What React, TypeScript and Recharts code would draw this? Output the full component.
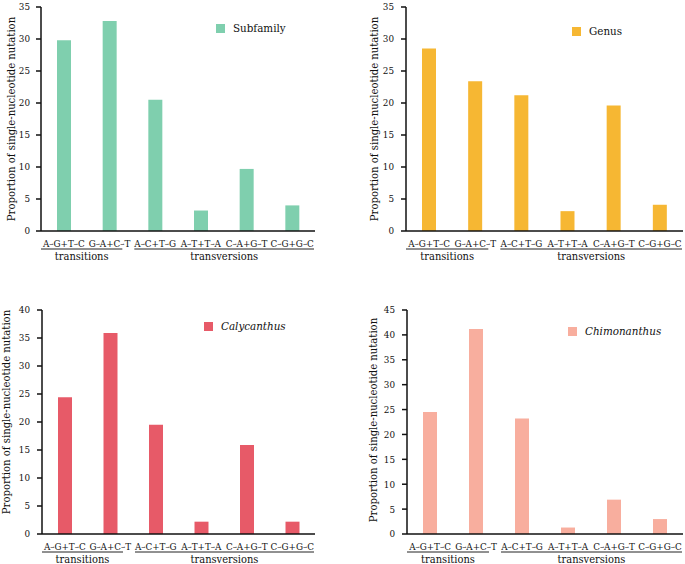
import { BarChart, Bar, XAxis, YAxis } from 'recharts';

const categories = ['A→G+T→C', 'G→A+C→T', 'A→C+T→G', 'A→T+T→A', 'C→A+G→T', 'C→G+G→C'];
const subfamily = [29.8, 32.8, 20.5, 3.2, 9.7, 4.0];
const genus = [28.5, 23.4, 21.2, 3.1, 19.6, 4.1];
const calycanthus = [24.4, 35.9, 19.5, 2.2, 15.9, 2.2];
const chimonanthus = [24.5, 41.2, 23.2, 1.3, 6.9, 3.0];
const ticks35 = [0, 5, 10, 15, 20, 25, 30, 35];
const ticks40 = [0, 5, 10, 15, 20, 25, 30, 35, 40];
const ticks45 = [0, 5, 10, 15, 20, 25, 30, 35, 40, 45];

const FONT = '"DejaVu Serif Condensed", "DejaVu Serif", serif';
const Y_TITLE = 'Proportion of single-nucleotide nutation';

const toRows = (values: number[]) => categories.map((c, i) => ({ name: c, value: values[i] }));

// x tick: label with small raised arrows, plus the transitions / transversions brackets
function MutationTick(props: any) {
  const { x, y, payload, index, width } = props;
  const half = payload?.offset || width / (categories.length * 2);
  const top = y - 8;
  const parts = String(payload.value).split('→');
  const spans: any[] = [];
  parts.forEach((p, i) => {
    spans.push(<tspan key={'t' + i} dy={i === 0 ? 0 : 1.5}>{p}</tspan>);
    if (i < parts.length - 1) spans.push(<tspan key={'a' + i} fontSize={5.5} dy={-1.5}>→</tspan>);
  });
  return (
    <g fontFamily={FONT} style={{ fontStretch: 'condensed' }}>
      <text x={x} y={top + 16} textAnchor="middle" fontSize={9.8} fill="#111">{spans}</text>
      {index === 0 && (
        <g>
          <line x1={x - half} x2={x + half * 3 - 10} y1={top + 18} y2={top + 18} stroke="#222" strokeWidth={1} />
          <text x={(x - half + x + half * 3 - 10) / 2} y={top + 28.5} textAnchor="middle" fontSize={11} fill="#111">transitions</text>
        </g>
      )}
      {index === 2 && (
        <g>
          <line x1={x - half + 2} x2={x + half * 7 - 1} y1={top + 18} y2={top + 18} stroke="#222" strokeWidth={1} />
          <text x={(x - half + 2 + x + half * 7 - 1) / 2} y={top + 28.5} textAnchor="middle" fontSize={11} fill="#111">transversions</text>
        </g>
      )}
    </g>
  );
}

function YTitle({ cx, dy, viewBox }: any) {
  const cy = viewBox.y + viewBox.height / 2 + dy;
  return (
    <text x={cx} y={cy} transform={`rotate(-90 ${cx} ${cy})`} textAnchor="middle" dominantBaseline="central"
      fontSize={11.2} fontFamily={FONT} style={{ fontStretch: 'condensed' }} fill="#111">{Y_TITLE}</text>
  );
}

function LegendBox({ label, color, italic }: { label: string; color: string; italic?: boolean }) {
  return (
    <div style={{ display: 'flex', alignItems: 'center', fontFamily: FONT, fontStretch: 'condensed', fontSize: 11.5, color: '#111', whiteSpace: 'nowrap' }}>
      <span style={{ width: 9, height: 9, background: color, display: 'inline-block', marginRight: 8 }} />
      <span style={{ fontStyle: italic ? 'italic' : 'normal' }}>{label}</span>
    </div>
  );
}

interface PanelProps {
  values: number[];
  label: string;
  color: string;
  italic?: boolean;
  ticks: number[];
  width: number;
  height: number;
  axisWidth: number;
  tickMargin: number;
  titleX: number;
  titleDy: number;
  margin: { top: number; right: number; left: number; bottom: number };
  legendPos: { left: number; top: number };
  left: number;
  top: number;
}

function Panel(p: PanelProps) {
  return (
    <div style={{ position: 'absolute', left: p.left, top: p.top, width: p.width, height: p.height }}>
      <BarChart width={p.width} height={p.height} data={toRows(p.values)} margin={p.margin} barCategoryGap={0}>
        <XAxis dataKey="name" interval={0} tickLine={false} stroke="#111" strokeWidth={1.5} height={p.height - p.margin.top - p.margin.bottom - 224}
          tick={<MutationTick />} />
        <YAxis domain={[0, p.ticks[p.ticks.length - 1]]} ticks={p.ticks} interval={0} width={p.axisWidth} stroke="#111" strokeWidth={1.5}
          tickSize={5} tickMargin={p.tickMargin} tick={{ fill: '#111', fontSize: 9.8, fontFamily: FONT, style: { fontStretch: 'condensed' } }}
          label={{ content: (lp: any) => <YTitle cx={p.titleX} dy={p.titleDy} viewBox={lp.viewBox} /> }} />
        <Bar dataKey="value" name={p.label} fill={p.color} barSize={14} isAnimationActive={false} />
      </BarChart>
      <div style={{ position: 'absolute', left: p.legendPos.left, top: p.legendPos.top }}>
        <LegendBox label={p.label} color={p.color} italic={p.italic} />
      </div>
    </div>
  );
}

export default function App() {
  return (
    <div style={{ position: 'absolute', left: 0, top: 0, width: 685, height: 564, background: '#fff', overflow: 'hidden' }}>
      <Panel values={subfamily} label="Subfamily" color="#7fcfae" ticks={ticks35} left={0} top={0} width={342} height={282}
        axisWidth={41} tickMargin={6} titleX={11} titleDy={0} margin={{ top: 7, right: 27, left: 0, bottom: 0 }} legendPos={{ left: 216, top: 21 }} />
      <Panel values={genus} label="Genus" color="#f6b733" ticks={ticks35} left={342} top={0} width={343} height={282}
        axisWidth={64} tickMargin={7} titleX={32} titleDy={0} margin={{ top: 7, right: 2, left: 0, bottom: 0 }} legendPos={{ left: 230, top: 24 }} />
      <Panel values={calycanthus} label="Calycanthus" color="#e75a68" italic ticks={ticks40} left={0} top={282} width={342} height={282}
        axisWidth={42} tickMargin={7} titleX={6} titleDy={-10} margin={{ top: 28, right: 27, left: 0, bottom: 0 }} legendPos={{ left: 204, top: 37 }} />
      <Panel values={chimonanthus} label="Chimonanthus" color="#f8ae9e" italic ticks={ticks45} left={342} top={282} width={343} height={282}
        axisWidth={65} tickMargin={7} titleX={31} titleDy={-2} margin={{ top: 28, right: 2, left: 0, bottom: 0 }} legendPos={{ left: 226, top: 42 }} />
    </div>
  );
}
